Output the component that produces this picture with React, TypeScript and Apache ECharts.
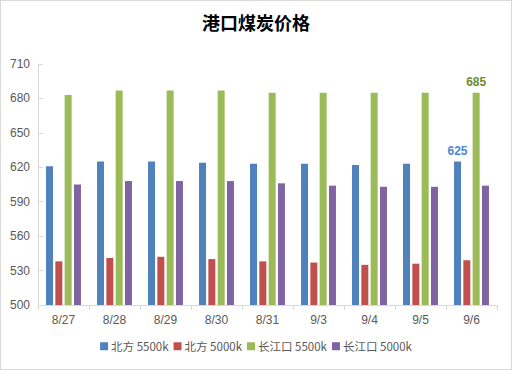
import React, { useEffect, useRef } from "react";
import * as echarts from "echarts";

const categories = ["8/27", "8/28", "8/29", "8/30", "8/31", "9/3", "9/4", "9/5", "9/6"];
const north5500 = [621, 625, 625, 624, 623, 623, 622, 623, 625];
const north5000 = [538, 541, 542, 540, 538, 537, 535, 536, 539];
const yangtze5500 = [683, 687, 687, 687, 685, 685, 685, 685, 685];
const yangtze5000 = [605, 608, 608, 608, 606, 604, 603, 603, 604];
const seriesNames = ["北方 5500k", "北方 5000k", "长江口 5500k", "长江口 5000k"];
const colors = ["#4F81BD", "#C0504D", "#9BBB59", "#8064A2"];
const labelColors = ["#4F86D0", "", "#6E8B2E", ""];

export default function App() {
  const ref = useRef<HTMLDivElement>(null);
  useEffect(() => {
    document.body.style.margin = "0";
    const chart = echarts.init(ref.current!, null, { renderer: "svg" });
    const datas = [north5500, north5000, yangtze5500, yangtze5000];
    const lastIdx = categories.length - 1;
    chart.setOption({
      animation: false,
      backgroundColor: "#fff",
      title: {
        text: "港口煤炭价格",
        left: "center",
        top: 7,
        textStyle: { fontSize: 18, fontWeight: "bold", color: "#000", fontFamily: "Noto Sans CJK SC" },
      },
      legend: {
        bottom: 12,
        left: "center",
        itemWidth: 8,
        itemHeight: 8,
        itemGap: 5,
        icon: "rect",
        textStyle: { fontSize: 11.5, color: "#595959", fontFamily: "Noto Sans CJK SC", padding: [0, 0, 0, -2] },
        data: seriesNames,
      },
      grid: { left: 37, right: 14, top: 63, bottom: 64, containLabel: false },
      xAxis: {
        type: "category",
        data: categories,
        axisLine: { lineStyle: { color: "#D9D9D9" } },
        axisTick: { show: true, length: 5, lineStyle: { color: "#D9D9D9" } },
        axisLabel: { color: "#595959", fontSize: 12, margin: 9, fontFamily: "Liberation Sans" },
      },
      yAxis: {
        type: "value",
        min: 500,
        max: 710,
        interval: 30,
        splitLine: { show: false },
        axisLine: { show: true, lineStyle: { color: "#D9D9D9" } },
        axisTick: { show: true, inside: true, length: 5, lineStyle: { color: "#D9D9D9" } },
        axisLabel: { color: "#595959", fontSize: 12, margin: 8, fontFamily: "Liberation Sans" },
      },
      series: datas.map((d, i) => ({
        name: seriesNames[i],
        type: "bar",
        barWidth: 7,
        barGap: "33%",
        itemStyle: { color: colors[i] },
        data: d.map((v, j) =>
          j === lastIdx && labelColors[i]
            ? {
                value: v,
                label: {
                  show: true,
                  position: "top",
                  distance: 5,
                  color: labelColors[i],
                  fontWeight: "bold",
                  fontSize: 12,
                  fontFamily: "Liberation Sans",
                },
              }
            : v
        ),
      })),
    });
    return () => chart.dispose();
  }, []);
  return (
    <div
      style={{
        position: "absolute",
        left: 0,
        top: 0,
        width: 510,
        height: 368,
        border: "1px solid #D9D9D9",
      }}
    >
      <div ref={ref} style={{ width: 510, height: 368 }} />
    </div>
  );
}
